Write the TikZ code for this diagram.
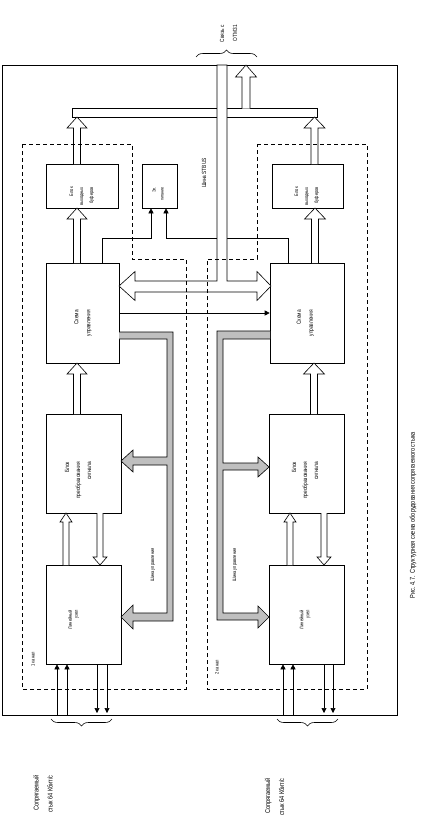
\documentclass[tikz,border=0pt]{standalone}
\usepackage{fontspec}
\setmainfont{Liberation Sans}[FakeStretch=0.8]
\usetikzlibrary{arrows.meta,decorations.pathreplacing}
\newcommand\varrow[7]{% fill, x, ystart, ytip, shaft half, head half, head length
  \pgfmathsetmacro\vab{#4 + (#3>#4 ? #7 : -#7)}%
  \filldraw[ln,fill=#1] ({#2-#5},#3) -- ({#2-#5},\vab) -- ({#2-#6},\vab) -- (#2,#4) -- ({#2+#6},\vab) -- ({#2+#5},\vab) -- ({#2+#5},#3);}
\begin{document}
\begin{tikzpicture}[x=1pt,y=-1pt,
  ln/.style={line width=0.6pt},
  box/.style={ln,draw,fill=white,inner sep=0pt},
  dsh/.style={ln,dash pattern=on 4pt off 3pt},
  busgray/.style={ln,fill=gray!50},
  txt/.style={rotate=90,anchor=east,align=right,inner sep=0pt},
  tip/.style={ln,-{Triangle[length=5pt,width=5pt]}},
  brc/.style={ln,decorate,decoration={brace,amplitude=7pt}}]
\useasboundingbox (0,0) rectangle (426,819);
% outer frame
\draw[ln] (2,65) rectangle (397,715);
% top horizontal bus bar
\filldraw[ln,fill=white] (72,108) rectangle (317,117);
% boxes
\node[box,minimum width=72pt,minimum height=44pt] (bufL) at (82,186) {};
\node[box,minimum width=71pt,minimum height=44pt] (bufR) at (307.5,186) {};
\node[box,minimum width=35pt,minimum height=44pt] (pwr) at (159.5,186) {};
\node[box,minimum width=73pt,minimum height=100pt] (ctlL) at (82.5,313) {};
\node[box,minimum width=74pt,minimum height=100pt] (ctlR) at (307,313) {};
\node[box,minimum width=75pt,minimum height=99pt] (cnvL) at (83.5,463.5) {};
\node[box,minimum width=75pt,minimum height=99pt] (cnvR) at (306.5,463.5) {};
\node[box,minimum width=75pt,minimum height=99pt] (linL) at (83.5,614.5) {};
\node[box,minimum width=75pt,minimum height=99pt] (linR) at (306.5,614.5) {};
% thin lines to the small box
\draw[tip] (ctlL.north -| 102,0) |- (151,238) -- (pwr.south -| 151,0);
\draw[tip] (ctlR.north -| 288,0) |- (166,238) -- (pwr.south -| 166,0);
\draw[tip] (ctlL.east |- 0,313) -- (ctlR.west |- 0,313);
% STBUS and double arrow
\filldraw[ln,fill=white] (119,286) -- (135,271.5) -- (135,281) -- (217,281) -- (217,65) -- (227,65) -- (227,281) -- (257,281) -- (257,271.5) -- (271,286) -- (257,300.5) -- (257,292) -- (135,292) -- (135,300.5) -- cycle;
% hollow arrows
\varrow{white}{246}{108.6}{65}{4}{10.5}{12}
\varrow{white}{77}{164}{117}{3.5}{10}{11}
\varrow{white}{314.5}{164}{117}{3.5}{10.5}{11}
\varrow{white}{77}{263}{208}{3.5}{10}{11}
\varrow{white}{315}{263}{208}{3.5}{10.5}{11}
\varrow{white}{77}{414}{363}{3.5}{10}{11}
\varrow{white}{314}{414}{363}{3.5}{10.5}{11}
\varrow{white}{66}{565}{513}{3}{6}{9}
\varrow{white}{100}{513}{565}{3}{7}{8}
\varrow{white}{290}{565}{513}{3}{6}{9}
\varrow{white}{324}{513}{565}{3}{7}{8}
% control buses (gray)
\filldraw[busgray] (119,332) -- (173,332) -- (173,621) -- (133,621) -- (133,629) -- (121,617) -- (133,605) -- (133,613) -- (167,613) -- (167,465) -- (133,465) -- (133,472) -- (121,461) -- (133,450) -- (133,457) -- (167,457) -- (167,339) -- (119,339);
\filldraw[busgray] (270,331) -- (217,331) -- (217,620) -- (258,620) -- (258,628) -- (269,617) -- (258,606) -- (258,613) -- (223,613) -- (223,470) -- (258,470) -- (258,477) -- (269,467) -- (258,457) -- (258,463) -- (223,463) -- (223,339) -- (270,339);
% external lines
\draw[tip] (57,715) -- (linL.south -| 57,0);
\draw[tip] (67,715) -- (linL.south -| 67,0);
\draw[tip] (linL.south -| 97,0) -- (97,713);
\draw[tip] (linL.south -| 107,0) -- (107,713);
\draw[tip] (283,715) -- (linR.south -| 283,0);
\draw[tip] (293,715) -- (linR.south -| 293,0);
\draw[tip] (linR.south -| 324,0) -- (324,713);
\draw[tip] (linR.south -| 333,0) -- (333,713);
% channel dashed frames
\draw[dsh] (22,144) -- (132,144) -- (132,259) -- (186,259) -- (186,689) -- (22,689) -- cycle;
\draw[dsh] (257,144) -- (367,144) -- (367,689) -- (207,689) -- (207,259) -- (257,259) -- cycle;
% braces
\draw[brc] (196,57) -- (257,57);
\draw[brc] (112,719) -- (51,719);
\draw[brc] (338,719) -- (277,719);
% texts
\node[txt,font=\fontsize{6}{13}\selectfont] (tOTM) at (228.5,25) {Связь с\\ОТМ31};
\node[txt,font=\fontsize{5}{10}\selectfont] (tbufL) at (82,187) {Блок\\выходных\\буферов};
\node[txt,font=\fontsize{5}{10}\selectfont] (tbufR) at (307,187) {Блок\\выходных\\буферов};
\node[txt,font=\fontsize{4.5}{8}\selectfont] (tpwr) at (158,187) {Эл.\\питание};
\node[txt,font=\fontsize{6}{12}\selectfont] (tstbus) at (204,158) {Шина STBUS};
\node[txt,font=\fontsize{6}{12}\selectfont] (tctlL) at (83,310) {Схема\\управления};
\node[txt,font=\fontsize{6}{12}\selectfont] (tctlR) at (305.5,310) {Схема\\управления};
\node[txt,font=\fontsize{6}{11}\selectfont] (tcnvL) at (78,462) {Блок\\преобразования\\сигнала};
\node[txt,font=\fontsize{6}{11}\selectfont] (tcnvR) at (305,462) {Блок\\преобразования\\сигнала};
\node[txt,font=\fontsize{5}{6}\selectfont] (tlinL) at (73.5,610) {Линейный\\узел};
\node[txt,font=\fontsize{5}{6}\selectfont] (tlinR) at (305,610) {Линейный\\узел};
\node[txt,font=\fontsize{5}{6}\selectfont] (tbusL) at (153,548) {Шина управления};
\node[txt,font=\fontsize{5}{6}\selectfont] (tbusR) at (235,548) {Шина управления};
\node[txt,font=\fontsize{5}{6}\selectfont] (tch1) at (33,652) {1 канал};
\node[txt,font=\fontsize{5}{6}\selectfont] (tch2) at (217,660) {2 канал};
\node[txt,font=\fontsize{7}{14}\selectfont] (tinL) at (43,775) {Сопрягаемый\\стык 64 Кбит/с};
\node[txt,font=\fontsize{7}{14}\selectfont] (tinR) at (274.5,778) {Сопрягаемый\\стык 64 Кбит/с};
\node[txt,font=\fontsize{7}{8}\selectfont] (tcap) at (413,432) {Рис. 4.7. Структурная схема оборудования сопрягаемого стыка};
\end{tikzpicture}
\end{document}
